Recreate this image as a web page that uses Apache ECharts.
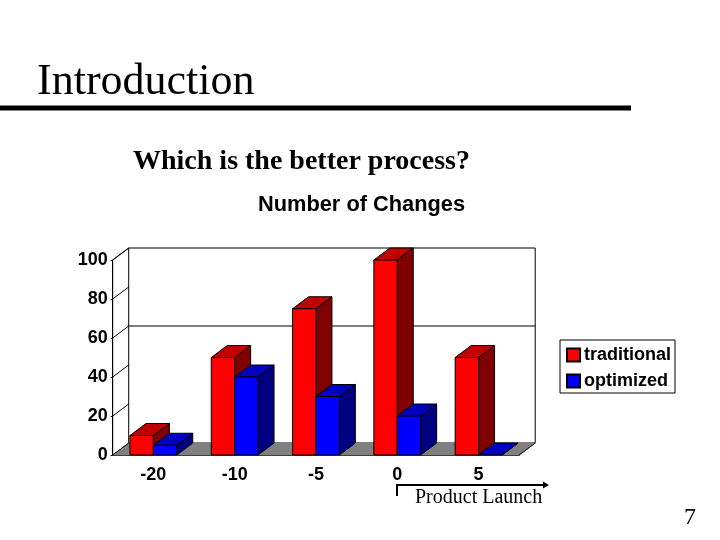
<!DOCTYPE html>
<html>
<head>
<meta charset="utf-8">
<title>Introduction</title>
<style>
  html, body { margin: 0; padding: 0; background: #fff; }
  #chart { width: 720px; height: 540px; }
</style>
<script src="https://cdn.jsdelivr.net/npm/echarts@6/dist/echarts.min.js"></script>
</head>
<body>
<div id="chart"></div>
<script>
const categories = ['-20', '-10', '-5', '0', '5']
const traditional = [10, 50, 75, 100, 50]
const optimized = [5, 40, 30, 20, 0]
const yTicks = [0, 20, 40, 60, 80, 100]
const backLines = [60]

// 3d look, pixels
const depthX = 16
const depthY = 12
const barWidth = 23.4
const sans = '"Liberation Sans", Arial, sans-serif'
const serif = '"Liberation Serif", "Times New Roman", serif'

function poly(points, fill, stroke = '#000') {
  return {
    type: 'polygon',
    shape: { points },
    style: { fill, stroke, lineWidth: 1 },
  }
}

function line(x1, y1, x2, y2) {
  return {
    type: 'line',
    shape: { x1, y1, x2, y2 },
    style: { stroke: '#000', lineWidth: 1 },
  }
}

// back wall, floor, side wall ticks
function renderWalls(params, api) {
  const cs = params.coordSys
  const left = cs.x
  const right = cs.x + cs.width
  const bottom = api.coord([0, 0])[1]
  const top = api.coord([0, 100])[1]
  const children = [
    poly([[left + depthX, top - depthY], [right + depthX, top - depthY],
      [right + depthX, bottom - depthY], [left + depthX, bottom - depthY]], '#fff'),
    poly([[left, bottom], [left + depthX, bottom - depthY],
      [right + depthX, bottom - depthY], [right, bottom]], '#808080', '#808080'),
    line(right, bottom, right + depthX, bottom - depthY),
    line(left, bottom, left, top),
    line(left, top, left + depthX, top - depthY),
  ]
  yTicks.forEach(v => {
    const y = api.coord([0, v])[1]
    children.push(line(left, y, left + depthX, y - depthY))
  })
  backLines.forEach(v => {
    const y = api.coord([0, v])[1] - depthY
    children.push(line(left + depthX, y, right + depthX, y))
  })
  return { type: 'group', children }
}

function renderBar(offset, front, topColor, side) {
  return function (params, api) {
    const center = api.coord([api.value(0), 0])[0]
    const x0 = center + offset
    const x1 = x0 + barWidth
    const y0 = api.coord([0, 0])[1]
    const y1 = api.coord([0, api.value(1)])[1]
    const children = [
      poly([[x1, y0], [x1 + depthX, y0 - depthY], [x1 + depthX, y1 - depthY], [x1, y1]], side),
      poly([[x0, y1], [x0 + depthX, y1 - depthY], [x1 + depthX, y1 - depthY], [x1, y1]], topColor),
    ]
    if (y0 - y1 > 0) {
      children.push(poly([[x0, y0], [x1, y0], [x1, y1], [x0, y1]], front))
    }
    return { type: 'group', children }
  }
}

const chart = echarts.init(document.getElementById('chart'))

chart.setOption({
  animation: false,
  backgroundColor: '#fff',
  title: [
    { text: 'Introduction', left: 37, top: 60, textStyle: { fontFamily: serif, fontSize: 44, fontWeight: 'normal', color: '#000' }, padding: 0 },
    { text: 'Which is the better process?', left: 133, top: 148, textStyle: { fontFamily: serif, fontSize: 28, fontWeight: 'bold', color: '#000' }, padding: 0 },
    { text: 'Number of Changes', left: 258, top: 194, textStyle: { fontFamily: sans, fontSize: 21.8, fontWeight: 'bold', color: '#000' }, padding: 0 },
    { text: 'Product Launch', left: 415, top: 488, textStyle: { fontFamily: serif, fontSize: 20, fontWeight: 'normal', color: '#000' }, padding: 0 },
    { text: '7', left: 684, top: 506, textStyle: { fontFamily: serif, fontSize: 24, fontWeight: 'normal', color: '#000' }, padding: 0 },
  ],
  legend: {
    data: [{ name: 'traditional', icon: 'rect' }, { name: 'optimized', icon: 'rect' }],
    orient: 'vertical',
    left: 560,
    top: 340,
    padding: [6, 4, 3, 6],
    itemGap: 8,
    itemWidth: 13,
    itemHeight: 13,
    borderColor: '#000',
    borderWidth: 1,
    selectedMode: false,
    textStyle: { fontFamily: sans, fontSize: 18, fontWeight: 'bold', color: '#000', padding: [0, 0, 0, -1] },
  },
  grid: { left: 112.7, top: 260, width: 406.5, height: 195 },
  xAxis: {
    type: 'category',
    data: categories,
    axisLine: { lineStyle: { color: '#000', width: 1 } },
    axisTick: { length: 4, lineStyle: { color: '#000' } },
    axisLabel: { fontFamily: sans, fontSize: 18, fontWeight: 'bold', color: '#000', margin: 11 },
    splitLine: { show: false },
  },
  yAxis: {
    type: 'value',
    min: 0,
    max: 100,
    interval: 20,
    axisLine: { show: true, lineStyle: { color: '#000', width: 1 } },
    axisTick: { show: true, length: 2, lineStyle: { color: '#000' } },
    axisLabel: { fontFamily: sans, fontSize: 18, fontWeight: 'bold', color: '#000', margin: 5, padding: [5, 0, 0, 0] },
    splitLine: { show: false },
  },
  graphic: [
    { type: 'rect', shape: { x: 0, y: 105.5, width: 631, height: 5 }, style: { fill: '#000' } },
    { type: 'polyline', shape: { points: [[397, 496], [397, 485], [544, 485]] }, style: { stroke: '#000', lineWidth: 2, fill: 'none' } },
    { type: 'polygon', shape: { points: [[543, 481.5], [549, 485], [543, 488.5]] }, style: { fill: '#000' } },
  ],
  series: [
    {
      name: 'walls',
      type: 'custom',
      silent: true,
      z: 1,
      data: [[0, 0]],
      renderItem: renderWalls,
    },
    {
      name: 'traditional',
      type: 'custom',
      z: 2,
      itemStyle: { color: '#ff0000', borderColor: '#000', borderWidth: 1 },
      data: traditional.map((v, i) => [i, v]),
      encode: { x: 0, y: 1 },
      renderItem: renderBar(-barWidth, '#ff0000', '#c00000', '#800000'),
    },
    {
      name: 'optimized',
      type: 'custom',
      z: 3,
      itemStyle: { color: '#0000ff', borderColor: '#000', borderWidth: 1 },
      data: optimized.map((v, i) => [i, v]),
      encode: { x: 0, y: 1 },
      renderItem: renderBar(0, '#0000ff', '#0000c0', '#000080'),
    },
  ],
})
</script>
</body>
</html>
